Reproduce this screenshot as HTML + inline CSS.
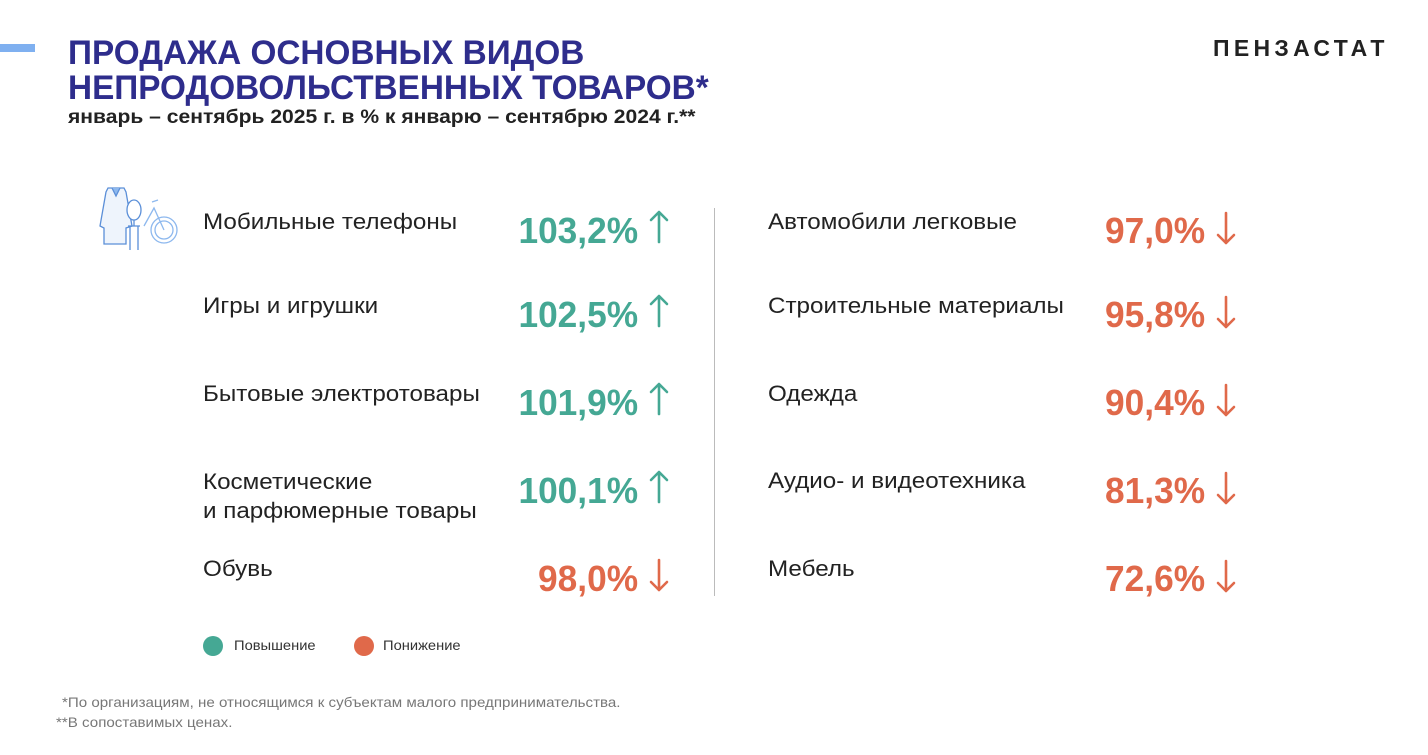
<!DOCTYPE html>
<html><head><meta charset="utf-8"><style>
body{margin:0;width:1428px;height:755px;background:#fff;position:relative;overflow:hidden;font-family:"Liberation Sans",sans-serif}
.a{position:absolute;white-space:nowrap;transform-origin:0 0}
.t{color:#2e2d8c;font-weight:bold;font-size:34px;line-height:34px}
.l{color:#222;font-size:22px;line-height:28px;transform:scaleX(1.1)}
.v{font-weight:bold;font-size:36px;line-height:36px;transform:scaleX(0.98);transform-origin:100% 0;text-align:right}
.g{color:#45a894}.o{color:#e0694a}
.f{color:#777;font-size:14px;transform:scaleX(1.08)}
</style></head><body>
<div class="a" style="left:0;top:44px;width:35px;height:8px;background:#7fb0f0"></div>
<div class="a t" style="left:68px;top:36px;transform:scaleX(0.98)">ПРОДАЖА ОСНОВНЫХ ВИДОВ</div>
<div class="a t" style="left:68px;top:71px;transform:scaleX(0.98)">НЕПРОДОВОЛЬСТВЕННЫХ ТОВАРОВ*</div>
<div class="a" style="left:68px;top:107px;font-weight:bold;font-size:19px;color:#222;transform:scaleX(1.11)">январь – сентябрь 2025 г. в % к январю – сентябрю 2024 г.**</div>
<div class="a" style="left:1213px;top:35px;font-weight:bold;font-size:23px;letter-spacing:4.3px;color:#222">ПЕНЗАСТАТ</div>

<svg class="a" style="left:98px;top:186px" width="82" height="66" viewBox="0 0 82 66" fill="none" stroke="#5b8fd8" stroke-width="1.3">
<path d="M10 2 L26 2 L28 6 L34 40 L28 42 L28 58 L6 58 L6 42 L2 40 L8 6 Z" fill="#eef4fc"/>
<path d="M14 2 L18 10 L22 2" fill="#8db8ee"/>
<ellipse cx="36" cy="24" rx="7" ry="10" fill="#fff"/>
<path d="M30 40 L42 40 M32 40 L32 64 M40 40 L40 64 M36 34 L36 40"/>
<circle cx="66" cy="44" r="13" stroke="#8db8ee"/><circle cx="66" cy="44" r="9" stroke="#8db8ee"/>
<path d="M46 40 L56 22 L66 44 M54 16 L60 14" stroke="#8db8ee"/>
</svg>

<div class="a l" style="left:203px;top:208px">Мобильные телефоны</div>
<div class="a l" style="left:203px;top:292px">Игры и игрушки</div>
<div class="a l" style="left:203px;top:380px">Бытовые электротовары</div>
<div class="a l" style="left:203px;top:467px;line-height:29px">Косметические<br>и парфюмерные товары</div>
<div class="a l" style="left:203px;top:555px">Обувь</div>

<div class="a v g" style="right:790px;top:213px">103,2%</div>
<div class="a v g" style="right:790px;top:297px">102,5%</div>
<div class="a v g" style="right:790px;top:385px">101,9%</div>
<div class="a v g" style="right:790px;top:473px">100,1%</div>
<div class="a v o" style="right:790px;top:561px">98,0%</div>

<svg class="a" style="left:0;top:0" width="1428" height="755" fill="none" stroke-width="2.6" stroke-linecap="round" stroke-linejoin="round">
<g stroke="#45a894">
<path d="M659 242V212M651 220L659 212L667 220"/>
<path d="M659 326V296M651 304L659 296L667 304"/>
<path d="M659 414V384M651 392L659 384L667 392"/>
<path d="M659 502V472M651 480L659 472L667 480"/>
</g>
<g stroke="#e0694a">
<path d="M659 560V590M651 582L659 590L667 582"/>
<path d="M1226 213V243M1218 235L1226 243L1234 235"/>
<path d="M1226 297V327M1218 319L1226 327L1234 319"/>
<path d="M1226 385V415M1218 407L1226 415L1234 407"/>
<path d="M1226 473V503M1218 495L1226 503L1234 495"/>
<path d="M1226 561V591M1218 583L1226 591L1234 583"/>
</g>
</svg>

<div class="a" style="left:714px;top:208px;width:1px;height:388px;background:#bbb"></div>

<div class="a l" style="left:768px;top:208px">Автомобили легковые</div>
<div class="a l" style="left:768px;top:292px">Строительные материалы</div>
<div class="a l" style="left:768px;top:380px">Одежда</div>
<div class="a l" style="left:768px;top:467px">Аудио- и видеотехника</div>
<div class="a l" style="left:768px;top:555px">Мебель</div>

<div class="a v o" style="right:223px;top:213px">97,0%</div>
<div class="a v o" style="right:223px;top:297px">95,8%</div>
<div class="a v o" style="right:223px;top:385px">90,4%</div>
<div class="a v o" style="right:223px;top:473px">81,3%</div>
<div class="a v o" style="right:223px;top:561px">72,6%</div>

<div class="a" style="left:203px;top:636px;width:20px;height:20px;border-radius:50%;background:#45a894"></div>
<div class="a" style="left:234px;top:637px;font-size:14px;color:#333;transform:scaleX(1.05)">Повышение</div>
<div class="a" style="left:354px;top:636px;width:20px;height:20px;border-radius:50%;background:#e0694a"></div>
<div class="a" style="left:383px;top:637px;font-size:14px;color:#333;transform:scaleX(1.05)">Понижение</div>

<div class="a f" style="left:62px;top:694px">*По организациям, не относящимся к субъектам малого предпринимательства.</div>
<div class="a f" style="left:56px;top:714px">**В сопоставимых ценах.</div>
</body></html>
